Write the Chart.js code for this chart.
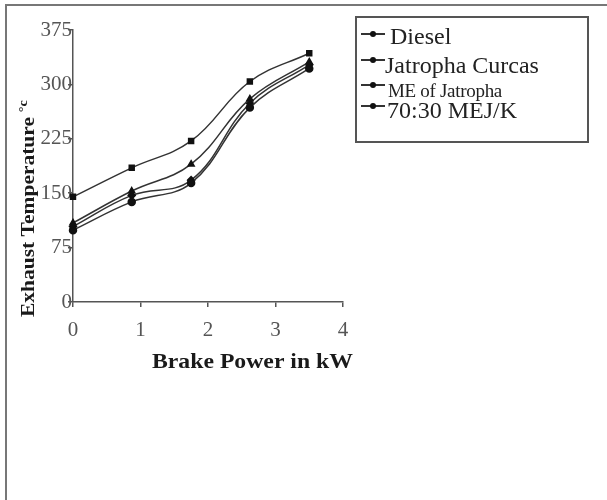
<!DOCTYPE html>
<html lang="en">
<head>
    <meta charset="UTF-8">
    <title>Exhaust Temperature vs Brake Power</title>
    <script src="https://cdn.jsdelivr.net/npm/chart.js"></script>
    <style>
        body {
            margin: 0;
            padding: 0;
            background: #fff;
            font-family: 'Liberation Serif', 'Times New Roman', serif;
        }

        #wrap {
            position: relative;
            width: 607px;
            height: 500px;
            overflow: hidden;
        }

        #frame {
            position: absolute;
            left: 5px;
            top: 4px;
            right: 0;
            bottom: 0;
            border-left: 2px solid #777;
            border-top: 2px solid #777;
        }

        canvas {
            position: absolute;
            left: 0;
            top: 0;
        }

        #legend {
            position: absolute;
            left: 355px;
            top: 16px;
            width: 230px;
            height: 123px;
            border: 2px solid #555;
        }

        .item {
            position: absolute;
            white-space: nowrap;
            color: #222;
            line-height: 1;
        }

        .mark {
            position: absolute;
            width: 24px;
            height: 2px;
            background: #333;
        }

        .mark::after {
            content: "";
            position: absolute;
            left: 9px;
            top: -2px;
            width: 6px;
            height: 6px;
            border-radius: 50%;
            background: #111;
        }
    </style>
</head>
<body>
    <div id="wrap">
        <div id="frame"></div>
        <canvas id="grafico" width="607" height="500"></canvas>
        <div id="legend">
            <div class="mark" style="left:4px; top:15px;"></div>
            <div class="item" style="left:33px; top:6px; font-size:24px;">Diesel</div>
            <div class="mark" style="left:4px; top:41px;"></div>
            <div class="item" style="left:28px; top:35px; font-size:24px;">Jatropha Curcas</div>
            <div class="mark" style="left:4px; top:66px;"></div>
            <div class="item" style="left:31px; top:63px; font-size:19px; letter-spacing:-0.3px;">ME of Jatropha</div>
            <div class="mark" style="left:4px; top:87px;"></div>
            <div class="item" style="left:30px; top:80px; font-size:24px;">70:30 MEJ/K</div>
        </div>
    </div>

    <script>
        // brake power (kW) at each load step
        var potencia = [0, 0.87, 1.75, 2.62, 3.5];

        // exhaust temperature (deg C)
        var diesel = [99, 138, 164, 268, 322];
        var jatropha = [145, 185, 222, 304, 343];
        var meJatropha = [109, 153, 190, 280, 331];
        var mejk = [104, 147, 168, 274, 327];

        var xTicks = [0, 1, 2, 3, 4];
        var yTicks = [0, 75, 150, 225, 300, 375];

        function pontos(valores) {
            return potencia.map(function(p, i) { return { x: p, y: valores[i] }; });
        }

        function serie(nome, valores, estilo) {
            return {
                label: nome,
                data: pontos(valores),
                borderColor: '#333',
                borderWidth: 1.5,
                backgroundColor: '#111',
                pointBackgroundColor: '#111',
                pointBorderColor: '#111',
                pointStyle: estilo,
                pointRadius: 3.5,
                tension: 0.4,
                clip: false
            };
        }

        var titulosEixos = {
            id: 'titulosEixos',
            afterDraw: function(chart) {
                var ctx = chart.ctx;
                ctx.save();
                ctx.fillStyle = '#1a1a1a';
                ctx.textBaseline = 'alphabetic';
                ctx.textAlign = 'left';

                // x title
                ctx.font = 'bold 21px "Liberation Serif"';
                var tx = 'Brake Power in kW';
                var wx = ctx.measureText(tx).width;
                ctx.save();
                ctx.translate(152, 368);
                ctx.scale(201 / wx, 1);
                ctx.fillText(tx, 0, 0);
                ctx.restore();

                // y title
                ctx.font = 'bold 18px "Liberation Serif"';
                var ty = 'Exhaust Temperature';
                var wy = ctx.measureText(ty).width;
                ctx.save();
                ctx.translate(34, 317);
                ctx.rotate(-Math.PI / 2);
                ctx.scale(200 / wy, 1);
                ctx.fillText(ty, 0, 0);
                ctx.font = 'bold 12px "Liberation Serif"';
                ctx.fillText('\u00B0c', wy + 4, -7);
                ctx.restore();

                ctx.restore();
            }
        };

        var fonteTicks = { family: 'Liberation Serif', size: 21 };

        new Chart(document.getElementById('grafico').getContext('2d'), {
            type: 'line',
            data: {
                datasets: [
                    serie('Diesel', diesel, 'circle'),
                    serie('Jatropha Curcas', jatropha, 'rect'),
                    serie('ME of Jatropha', meJatropha, 'triangle'),
                    serie('70:30 MEJ/K', mejk, 'rectRot')
                ]
            },
            options: {
                responsive: false,
                animation: false,
                layout: { padding: { left: 0, top: 30, right: 264, bottom: 138 } },
                plugins: {
                    legend: { display: false },
                    tooltip: { enabled: false }
                },
                scales: {
                    x: {
                        type: 'linear',
                        min: 0,
                        max: 4,
                        afterBuildTicks: function(s) { s.ticks = xTicks.map(function(v) { return { value: v }; }); },
                        afterFit: function(s) { s.height = 60; },
                        ticks: { color: '#555', font: fonteTicks, padding: 11 },
                        grid: { drawOnChartArea: false, tickLength: 5, color: '#555', lineWidth: 1.5 },
                        border: { color: '#555', width: 1.5 }
                    },
                    y: {
                        min: 0,
                        max: 375,
                        afterBuildTicks: function(s) { s.ticks = yTicks.map(function(v) { return { value: v }; }); },
                        afterFit: function(s) { s.width = 73; },
                        ticks: { color: '#555', font: fonteTicks, padding: -4 },
                        grid: { drawOnChartArea: false, tickLength: 5, color: '#555', lineWidth: 1.5 },
                        border: { color: '#555', width: 1.5 }
                    }
                }
            },
            plugins: [titulosEixos]
        });
    </script>
</body>
</html>
